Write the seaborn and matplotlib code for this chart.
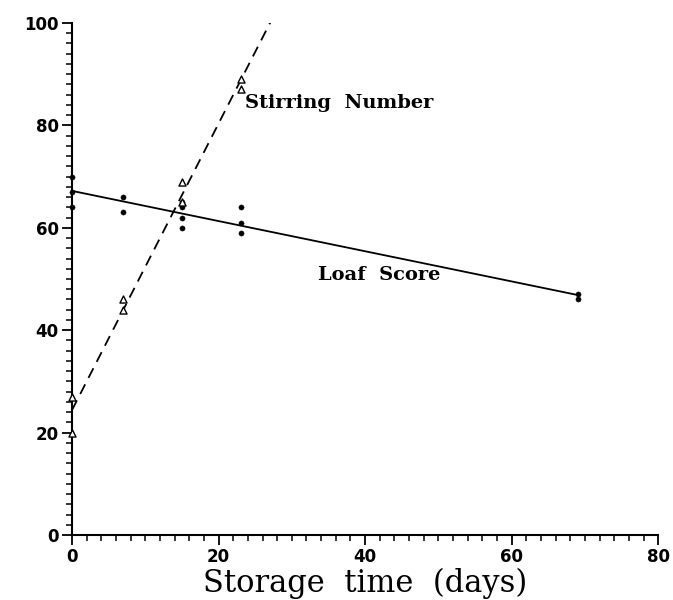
import matplotlib
matplotlib.use('Agg')
import numpy as np
import pandas as pd
import matplotlib.pyplot as plt
import seaborn as sns
from matplotlib.ticker import MultipleLocator

# === 資料 ===
loaf_days = [0, 0, 0, 7, 7, 15, 15, 15, 15, 23, 23, 23, 69, 69]
loaf_score = [70, 67, 64, 66, 63, 65, 64, 62, 60, 64, 61, 59, 47, 46]

stir_days = [0, 0, 7, 7, 15, 15, 23, 23]
stir_number = [27, 20, 46, 44, 69, 65, 89, 87]

df_loaf = pd.DataFrame({'days': loaf_days, 'value': loaf_score})
df_stir = pd.DataFrame({'days': stir_days, 'value': stir_number})

sns.set_style('ticks')
plt.rcParams['font.family'] = ['DejaVu Sans']
plt.rcParams['text.color'] = 'black'
plt.rcParams['axes.labelcolor'] = 'black'
plt.rcParams['xtick.color'] = 'black'
plt.rcParams['ytick.color'] = 'black'

fig = plt.figure(figsize=(6.73, 6.0), dpi=100)
ax = fig.add_axes([0.107, 0.108, 0.871, 0.854])
ax.set_xlim(0, 80)
ax.set_ylim(0, 100)

# 回歸線
sns.regplot(x='days', y='value', data=df_loaf, ci=None, scatter=False, truncate=True,
            color='black', line_kws={'linewidth': 1.3}, ax=ax)
sns.regplot(x='days', y='value', data=df_stir, ci=None, scatter=False, truncate=False,
            color='black', line_kws={'linewidth': 1.3, 'linestyle': (0, (6, 4))}, ax=ax)

# 資料點
sns.scatterplot(x='days', y='value', data=df_loaf, marker='o', s=14, color='black',
                edgecolor='black', ax=ax, clip_on=False, zorder=5)
sns.scatterplot(x='days', y='value', data=df_stir, marker='^', s=26, facecolor='white',
                edgecolor='black', linewidth=1, ax=ax, clip_on=False, zorder=5)

ax.set_xlim(0, 80)
ax.set_ylim(0, 100)

# 標註
ax.text(23.6, 84.4, 'Stirring  Number', fontsize=14, fontweight='bold',
        family='DejaVu Serif', va='center', ha='left')
ax.text(33.6, 50.8, 'Loaf  Score', fontsize=14, fontweight='bold',
        family='DejaVu Serif', va='center', ha='left')

# 軸與刻度
sns.despine(ax=ax)
for s in ['left', 'bottom']:
    ax.spines[s].set_linewidth(1.5)
    ax.spines[s].set_color('black')
ax.xaxis.set_major_locator(MultipleLocator(20))
ax.xaxis.set_minor_locator(MultipleLocator(2))
ax.yaxis.set_major_locator(MultipleLocator(20))
ax.yaxis.set_minor_locator(MultipleLocator(2))
ax.tick_params(which='major', length=7, width=1.3, labelsize=12, color='black', pad=2.5)
ax.tick_params(which='minor', length=4, width=1.1, color='black')
for lab in ax.get_xticklabels() + ax.get_yticklabels():
    lab.set_fontweight('bold')

ax.set_xlabel('Storage  time  (days)', fontsize=22, family='DejaVu Serif', labelpad=1)
ax.set_ylabel('')

plt.savefig('out.png', dpi=100)
